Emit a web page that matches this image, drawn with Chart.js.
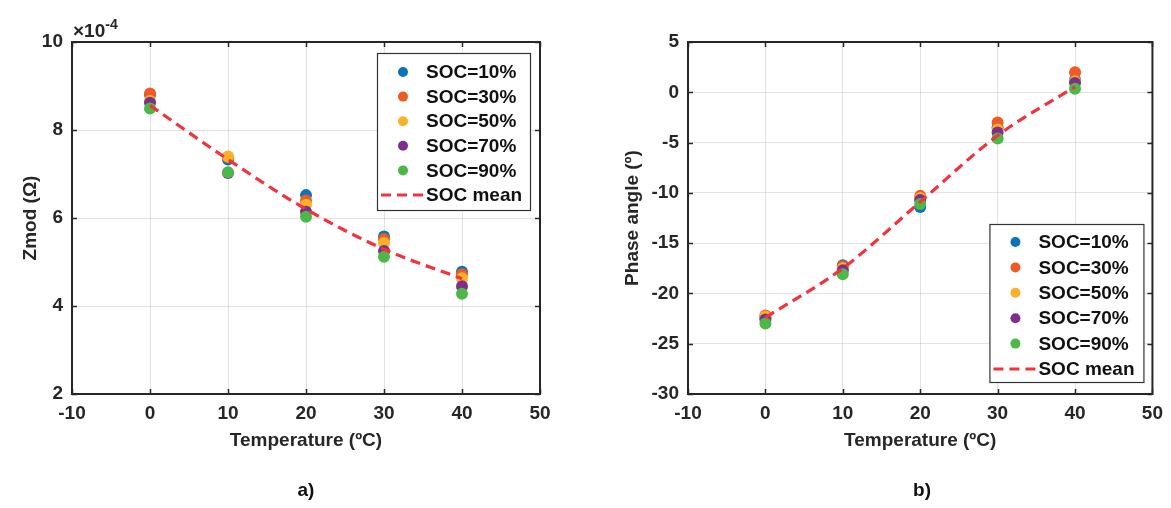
<!DOCTYPE html>
<html>
<head>
<meta charset="utf-8">
<script src="https://cdn.jsdelivr.net/npm/chart.js@4.4.1/dist/chart.umd.min.js"></script>
<style>
  body { margin: 0; background: #fff; width: 1171px; height: 508px; overflow: hidden; position: relative;
         font-family: "Liberation Sans", Arial, sans-serif; }
  #zmodChart { position: absolute; left: 0; top: 0; }
  #phaseChart { position: absolute; left: 585px; top: 0; }
  .panel { position: absolute; top: 479px; font-weight: bold; font-size: 19px; color: #111; transform: translateX(-50%); }
</style>
</head>
<body>
<canvas id="zmodChart" width="585" height="508"></canvas>
<canvas id="phaseChart" width="586" height="508"></canvas>
<div class="panel" style="left:306px">a)</div>
<div class="panel" style="left:922px">b)</div>
<script>
// temperatures (ºC) and SOC series
const temps = [0, 10, 20, 30, 40];
const socLabels = ['SOC=10%', 'SOC=30%', 'SOC=50%', 'SOC=70%', 'SOC=90%'];
const socColors = ['#0b72bd', '#f05a24', '#fbb02a', '#7e2f8e', '#4cb848'];
const meanColor = '#f2323c';

// Zmod, in units of 1e-4 Ω
const zmod10 = [8.80, 7.33, 6.52, 5.58, 4.78];
const zmod30 = [8.83, 7.38, 6.40, 5.52, 4.72];
const zmod50 = [8.66, 7.40, 6.30, 5.43, 4.63];
const zmod70 = [8.62, 7.02, 6.14, 5.25, 4.45];
const zmod90 = [8.49, 7.04, 6.03, 5.12, 4.28];
const zmodMean = [8.56, 7.33, 6.20, 5.29, 4.62];

// phase angle (º)
const phase10 = [-22.4, -17.2, -11.4, -3.5, 1.25];
const phase30 = [-22.2, -17.3, -10.3, -3.0, 2.0];
const phase50 = [-22.3, -17.5, -10.5, -3.7, 1.1];
const phase70 = [-22.6, -17.7, -10.7, -4.0, 0.93];
const phase90 = [-23.0, -18.1, -11.1, -4.6, 0.35];
const phaseMean = [-22.4, -17.5, -10.9, -4.3, 0.55];

const tempTicks = [-10, 0, 10, 20, 30, 40, 50];
const zmodTicks = [2, 4, 6, 8, 10];
const phaseTicks = [-30, -25, -20, -15, -10, -5, 0, 5];

const fontFamily = '"Liberation Sans", Arial, sans-serif';
const textColor = '#262626';
const gridColor = 'rgba(38,38,38,0.13)';

function buildDatasets(series, mean) {
  const sets = series.map((vals, i) => ({
    label: socLabels[i],
    data: temps.map((t, j) => ({ x: t, y: vals[j] })),
    backgroundColor: socColors[i],
    borderColor: socColors[i],
    borderWidth: 0,
    pointRadius: 6,
    pointHoverRadius: 6,
    showLine: false,
    order: series.length - i
  }));
  sets.push({
    label: 'SOC mean',
    data: temps.map((t, j) => ({ x: t, y: mean[j] })),
    borderColor: meanColor,
    borderWidth: 3.2,
    borderDash: [10, 6],
    pointRadius: 0,
    showLine: true,
    fill: false,
    cubicInterpolationMode: 'monotone',
    order: 0
  });
  return sets;
}

function fixedTicks(list) {
  return scale => { scale.ticks = list.map(v => ({ value: v })); };
}

function makeScales(yTicks, yTitle, yWidth, yTitlePad) {
  const tickFont = { family: fontFamily, size: 19, weight: 'bold' };
  return {
    x: {
      type: 'linear', min: -10, max: 50,
      afterBuildTicks: fixedTicks(tempTicks),
      afterFit: s => { s.height = 114; },
      ticks: { font: tickFont, color: textColor, padding: 8, maxRotation: 0, autoSkip: false },
      grid: { color: gridColor, drawTicks: false },
      border: { display: false },
      title: { display: true, text: 'Temperature (ºC)', font: tickFont, color: textColor,
               padding: { top: 0, bottom: 56 } }
    },
    y: {
      type: 'linear', min: yTicks[0], max: yTicks[yTicks.length - 1],
      afterBuildTicks: fixedTicks(yTicks),
      afterFit: s => { s.width = yWidth; },
      ticks: { font: tickFont, color: textColor, padding: 9 },
      grid: { color: gridColor, drawTicks: false },
      border: { display: false },
      title: { display: true, text: yTitle, font: tickFont, color: textColor,
               padding: { top: yTitlePad, bottom: 0 } }
    }
  };
}

// axes box with MATLAB-like inward ticks, plus optional exponent label
const framePlugin = {
  id: 'frame',
  afterDraw(chart, args, opts) {
    const { ctx, chartArea: a, scales } = chart;
    ctx.save();
    ctx.strokeStyle = textColor;
    ctx.lineWidth = 2;
    ctx.strokeRect(a.left, a.top, a.right - a.left, a.bottom - a.top);
    ctx.lineWidth = 1.5;
    ctx.beginPath();
    scales.x.ticks.forEach(t => {
      const px = Math.round(scales.x.getPixelForValue(t.value)) + 0.5;
      ctx.moveTo(px, a.bottom); ctx.lineTo(px, a.bottom - 5);
      ctx.moveTo(px, a.top); ctx.lineTo(px, a.top + 5);
    });
    scales.y.ticks.forEach(t => {
      const py = Math.round(scales.y.getPixelForValue(t.value)) + 0.5;
      ctx.moveTo(a.left, py); ctx.lineTo(a.left + 5, py);
      ctx.moveTo(a.right, py); ctx.lineTo(a.right - 5, py);
    });
    ctx.stroke();
    if (opts.exponent) {
      ctx.fillStyle = textColor;
      ctx.textBaseline = 'alphabetic';
      ctx.font = 'bold 19px ' + fontFamily;
      ctx.fillText('×10', a.left + 1, a.top - 5);
      const w = ctx.measureText('×10').width;
      ctx.font = 'bold 14px ' + fontFamily;
      ctx.fillText(opts.exponent, a.left + 1 + w, a.top - 13);
    }
    ctx.restore();
  }
};

// boxed legend placed inside the plot area
const boxLegend = {
  id: 'boxLegend',
  afterDraw(chart, args, opts) {
    const { ctx, chartArea: a } = chart;
    const left = a.right - opts.right - opts.width;
    const top = opts.bottom != null ? a.bottom - opts.bottom - opts.height : a.top + opts.top;
    ctx.save();
    ctx.fillStyle = '#fff';
    ctx.fillRect(left, top, opts.width, opts.height);
    ctx.strokeStyle = '#333';
    ctx.lineWidth = 1.2;
    ctx.strokeRect(left + 0.5, top + 0.5, opts.width, opts.height);
    ctx.font = 'bold 19px ' + fontFamily;
    ctx.textBaseline = 'middle';
    chart.data.datasets.forEach((ds, i) => {
      const y = top + opts.firstRow + i * opts.rowGap;
      if (ds.showLine) {
        ctx.strokeStyle = ds.borderColor;
        ctx.lineWidth = 3;
        ctx.setLineDash([10, 6]);
        ctx.beginPath();
        ctx.moveTo(left + 4, y); ctx.lineTo(left + 48, y);
        ctx.stroke();
        ctx.setLineDash([]);
      } else {
        ctx.fillStyle = ds.backgroundColor;
        ctx.beginPath();
        ctx.arc(left + 26, y, 5, 0, Math.PI * 2);
        ctx.fill();
      }
      ctx.fillStyle = '#111';
      ctx.fillText(ds.label, left + 49, y + 1);
    });
    ctx.restore();
  }
};

new Chart(document.getElementById('zmodChart'), {
  type: 'scatter',
  data: { datasets: buildDatasets([zmod10, zmod30, zmod50, zmod70, zmod90], zmodMean) },
  options: {
    responsive: false,
    animation: false,
    layout: { padding: { top: 42, right: 45, bottom: 0, left: 0 } },
    scales: makeScales(zmodTicks, 'Zmod (Ω)', 72, 19),
    plugins: {
      legend: { display: false },
      tooltip: { enabled: false },
      frame: { exponent: '-4' },
      boxLegend: { right: 10, top: 11, width: 153, height: 157, firstRow: 19, rowGap: 24.6 }
    }
  },
  plugins: [framePlugin, boxLegend]
});

new Chart(document.getElementById('phaseChart'), {
  type: 'scatter',
  data: { datasets: buildDatasets([phase10, phase30, phase50, phase70, phase90], phaseMean) },
  options: {
    responsive: false,
    animation: false,
    layout: { padding: { top: 42, right: 15, bottom: 0, left: 0 } },
    scales: makeScales(phaseTicks, 'Phase angle (º)', 103, 36),
    plugins: {
      legend: { display: false },
      tooltip: { enabled: false },
      frame: {},
      boxLegend: { right: 9, bottom: 12, width: 154, height: 158, firstRow: 18, rowGap: 25.4 }
    }
  },
  plugins: [framePlugin, boxLegend]
});
</script>
</body>
</html>
